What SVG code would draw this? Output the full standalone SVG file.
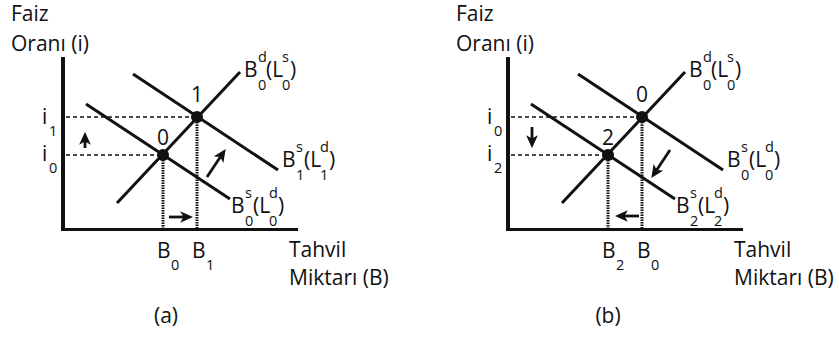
<svg xmlns="http://www.w3.org/2000/svg" width="839" height="338" viewBox="0 0 839 338">
<style>
text{font-family:"Open Sans","Liberation Sans",sans-serif;fill:#111;font-size:21px}
.s{font-size:14.5px}
.ax{stroke:#111;fill:none}
.cv{stroke:#111;stroke-width:3;fill:none}
.dh{stroke:#111;stroke-width:1.3;stroke-dasharray:4 3;fill:none}
.dv{stroke:#111;stroke-width:3;stroke-dasharray:1.5 1;fill:none}
.ar{stroke:#111;stroke-width:2.8;fill:none;marker-end:url(#ah)}
.dot{fill:#111}
</style>
<defs>
<marker id="ah" viewBox="0 0 10 10" refX="6" refY="5" markerWidth="13" markerHeight="13" markerUnits="userSpaceOnUse" orient="auto">
<path d="M0,0.5 L10,5 L0,9.5 L2.5,5 z" fill="#111"/>
</marker>
</defs>
<rect width="839" height="338" fill="#fff"/>

<g id="panel-a">
<g id="axes-a">
<line class="ax" x1="63" y1="57" x2="63" y2="231" stroke-width="4"/>
<line class="ax" x1="61" y1="229.5" x2="298" y2="229.5" stroke-width="3"/>
<text x="11" y="21">Faiz</text>
<text x="11" y="51">Oranı (i)</text>
<text x="289" y="257">Tahvil</text>
<text x="289" y="285">Miktarı (B)</text>
<text x="166" y="323" text-anchor="middle">(a)</text>
</g>
<g id="curves-a">
<line id="supply-a" class="cv" x1="117" y1="203" x2="240" y2="72"/>
<line id="demand1-a" class="cv" x1="133" y1="74" x2="278" y2="170"/>
<line id="demand0-a" class="cv" x1="86" y1="104" x2="230" y2="199"/>
</g>
<g id="guides-a">
<line class="dh" x1="66" y1="117" x2="197" y2="117"/>
<line class="dh" x1="66" y1="155" x2="163" y2="155"/>
<line class="dv" x1="163" y1="155" x2="163" y2="228"/>
<line class="dv" x1="197" y1="117" x2="197" y2="228"/>
</g>
<g id="point1-a"><circle class="dot" cx="197" cy="117" r="6"/><text x="197" y="102" text-anchor="middle">1</text></g>
<g id="point0-a"><circle class="dot" cx="163" cy="155" r="6"/><text x="163" y="145" text-anchor="middle">0</text></g>
<g id="ilabels-a">
<text x="42" y="124">i</text><text class="s" x="49" y="136">1</text>
<text x="42" y="161">i</text><text class="s" x="49" y="173">0</text>
</g>
<g id="blabels-a">
<text x="157" y="258">B</text><text class="s" x="171" y="270">0</text>
<text x="192" y="258">B</text><text class="s" x="206" y="270">1</text>
</g>
<g id="label-supply-a">
<text x="244" y="77">B</text><text class="s" x="258" y="62">d</text><text class="s" x="258" y="90">0</text>
<text x="266" y="77">(L</text><text class="s" x="282" y="62">s</text><text class="s" x="282" y="90">0</text><text x="290" y="77">)</text>
</g>
<g id="label-demand1-a">
<text x="282" y="167">B</text><text class="s" x="296" y="152">s</text><text class="s" x="296" y="180">1</text>
<text x="304" y="167">(L</text><text class="s" x="320" y="152">d</text><text class="s" x="320" y="180">1</text><text x="329" y="167">)</text>
</g>
<g id="label-demand0-a">
<text x="231" y="213">B</text><text class="s" x="245" y="198">s</text><text class="s" x="245" y="226">0</text>
<text x="253" y="213">(L</text><text class="s" x="269" y="198">d</text><text class="s" x="269" y="226">0</text><text x="278" y="213">)</text>
</g>
</g>

<g id="panel-b">
<g id="axes-b">
<line class="ax" x1="508" y1="57" x2="508" y2="231" stroke-width="4"/>
<line class="ax" x1="506" y1="229.5" x2="743" y2="229.5" stroke-width="3"/>
<text x="456" y="21">Faiz</text>
<text x="456" y="51">Oranı (i)</text>
<text x="734" y="257">Tahvil</text>
<text x="734" y="285">Miktarı (B)</text>
<text x="608" y="323" text-anchor="middle">(b)</text>
</g>
<g id="curves-b">
<line id="supply-b" class="cv" x1="562" y1="203" x2="685" y2="72"/>
<line id="demand0-b" class="cv" x1="578" y1="74" x2="723" y2="170"/>
<line id="demand2-b" class="cv" x1="531" y1="104" x2="675" y2="199"/>
</g>
<g id="guides-b">
<line class="dh" x1="511" y1="117" x2="642" y2="117"/>
<line class="dh" x1="511" y1="155" x2="608" y2="155"/>
<line class="dv" x1="608" y1="155" x2="608" y2="228"/>
<line class="dv" x1="642" y1="117" x2="642" y2="228"/>
</g>
<g id="point0-b"><circle class="dot" cx="642" cy="117" r="6"/><text x="642" y="102" text-anchor="middle">0</text></g>
<g id="point2-b"><circle class="dot" cx="608" cy="155" r="6"/><text x="608" y="145" text-anchor="middle">2</text></g>
<g id="ilabels-b">
<text x="487" y="124">i</text><text class="s" x="494" y="136">0</text>
<text x="487" y="161">i</text><text class="s" x="494" y="173">2</text>
</g>
<g id="blabels-b">
<text x="602" y="258">B</text><text class="s" x="616" y="270">2</text>
<text x="637" y="258">B</text><text class="s" x="651" y="270">0</text>
</g>
<g id="label-supply-b">
<text x="689" y="77">B</text><text class="s" x="703" y="62">d</text><text class="s" x="703" y="90">0</text>
<text x="711" y="77">(L</text><text class="s" x="727" y="62">s</text><text class="s" x="727" y="90">0</text><text x="735" y="77">)</text>
</g>
<g id="label-demand0-b">
<text x="727" y="167">B</text><text class="s" x="741" y="152">s</text><text class="s" x="741" y="180">0</text>
<text x="749" y="167">(L</text><text class="s" x="765" y="152">d</text><text class="s" x="765" y="180">0</text><text x="774" y="167">)</text>
</g>
<g id="label-demand2-b">
<text x="676" y="213">B</text><text class="s" x="690" y="198">s</text><text class="s" x="690" y="226">2</text>
<text x="698" y="213">(L</text><text class="s" x="714" y="198">d</text><text class="s" x="714" y="226">2</text><text x="723" y="213">)</text>
</g>
</g>

<g id="connectors">
<line class="ar" x1="85" y1="148" x2="85" y2="137"/>
<line class="ar" x1="207" y1="177" x2="222.8" y2="153.3"/>
<line class="ar" x1="169" y1="217" x2="188" y2="217"/>
<line class="ar" x1="532" y1="127" x2="532" y2="143"/>
<line class="ar" x1="670" y1="150" x2="654.2" y2="173.7"/>
<line class="ar" x1="639" y1="216" x2="620" y2="216"/>
</g>
</svg>
